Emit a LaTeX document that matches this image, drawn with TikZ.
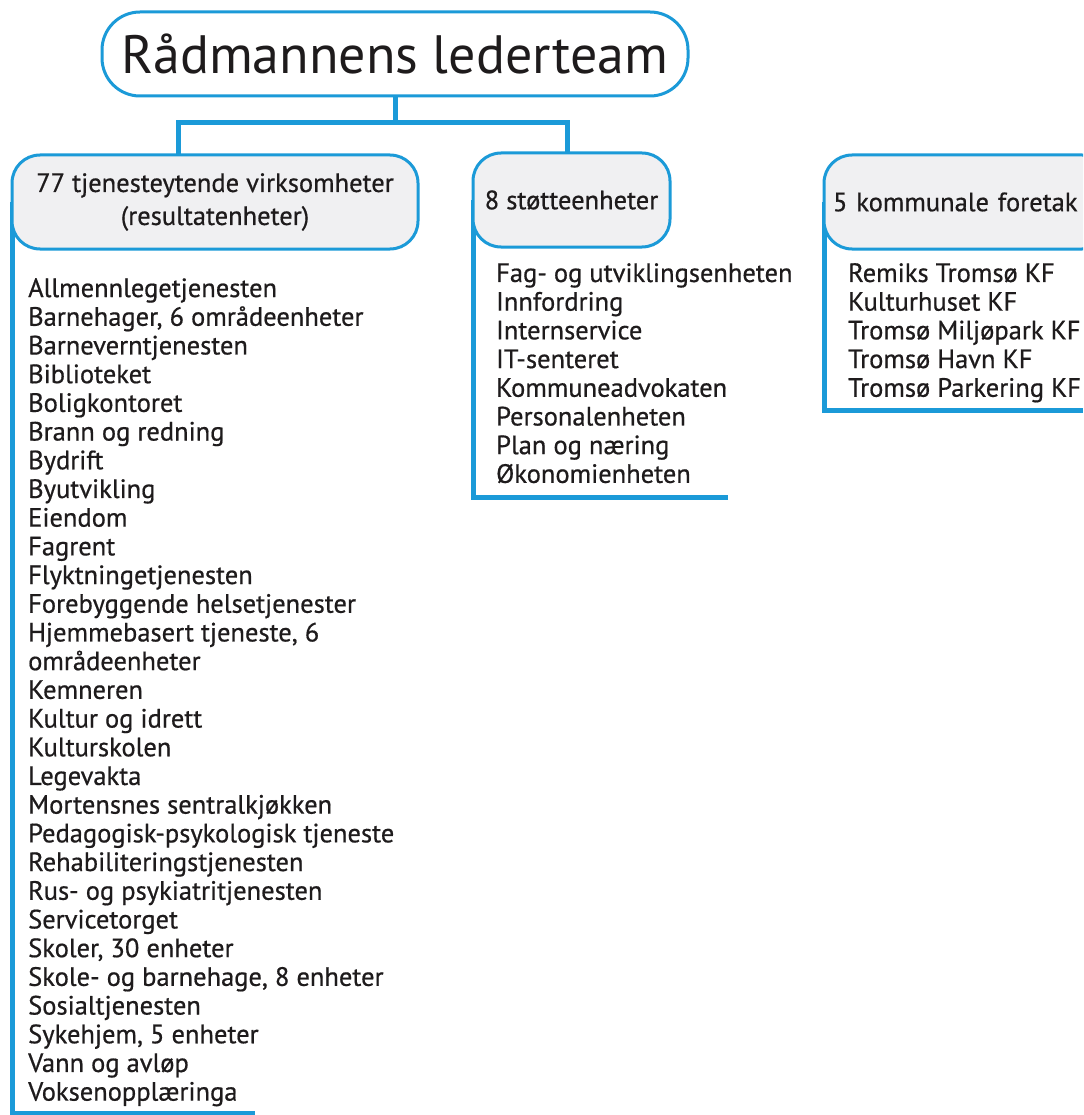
\documentclass[tikz,border=0pt]{standalone}
\usepackage{fontspec}
\setmainfont{PT Sans}
\newfontfamily\listfont{PT Sans}[FakeBold=0.6]
\usetikzlibrary{backgrounds}
\definecolor{tblue}{HTML}{1B9AD8}
\definecolor{tfill}{HTML}{F0F0F2}
\definecolor{ttext}{HTML}{1E1B1C}
\begin{document}
\begin{tikzpicture}[x=1pt,y=-1pt,
  box/.style={draw=tblue, line width=3pt, fill=tfill, rounded corners=28pt, inner sep=0pt, outer sep=0pt, text=ttext, minimum height=94pt},
  rail/.style={draw=tblue, line width=5pt},
  hdr/.style={font=\listfont\fontsize{26.5}{33}\selectfont},
  listtxt/.style={anchor=north west, inner sep=0pt, align=left, text=ttext, font=\listfont\fontsize{26.5}{28.7}\selectfont}]
\useasboundingbox (0,0) rectangle (1083,1115);
\clip (0,0) rectangle (1083,1115);
% top
\node[box, fill=white, rounded corners=38pt, minimum width=586pt, minimum height=84pt,
      font=\fontsize{54}{60}\selectfont] (top) at (395,54) {Rådmannens lederteam};
% groups
\node[box, hdr, align=center, minimum width=406pt] (b1) at (215,202)
  {77 tjenesteytende virksomheter\\(resultatenheter)};
\node[box, hdr, minimum width=197pt] (b2) at (571.5,200) {8 støtteenheter};
\node[box, hdr, anchor=west, text width=268pt, align=left, inner xsep=9pt] (b3) at (824,202) {5 kommunale foretak};
% connectors
\coordinate (j) at (395,123);
\draw[rail] (top.south) -- (j);
\draw[rail] (j) -| ([xshift=-37pt]b1.north);
\draw[rail] (j) -| ([xshift=-4.5pt]b2.north);
% rails
\coordinate (e1) at (255,1113);
\coordinate (e2) at (728,497);
\coordinate (e3) at (1083,410);
\begin{scope}[on background layer]
\fill[white] (0,0) rectangle (1083,1115);
\draw[rail] (b1.west) |- (e1);
\draw[rail] (b2.west) |- (e2);
\draw[rail] (b3.west) |- (e3);
\end{scope}
% lists
\node[listtxt] (l1) at (28,278) {Allmennlegetjenesten\\
Barnehager, 6 områdeenheter\\
Barneverntjenesten\\
Biblioteket\\
Boligkontoret\\
Brann og redning\\
Bydrift\\
Byutvikling\\
Eiendom\\
Fagrent\\
Flyktningetjenesten\\
Forebyggende helsetjenester\\
Hjemmebasert tjeneste, 6\\
områdeenheter\\
Kemneren\\
Kultur og idrett\\
Kulturskolen\\
Legevakta\\
Mortensnes sentralkjøkken\\
Pedagogisk-psykologisk tjeneste\\
Rehabiliteringstjenesten\\
Rus- og psykiatritjenesten\\
Servicetorget\\
Skoler, 30 enheter\\
Skole- og barnehage, 8 enheter\\
Sosialtjenesten\\
Sykehjem, 5 enheter\\
Vann og avløp\\
Voksenopplæringa};
\node[listtxt] (l2) at (496,263) {Fag- og utviklingsenheten\\
Innfordring\\
Internservice\\
IT-senteret\\
Kommuneadvokaten\\
Personalenheten\\
Plan og næring\\
Økonomienheten};
\node[listtxt] (l3) at (848,263) {Remiks Tromsø KF\\
Kulturhuset KF\\
Tromsø Miljøpark KF\\
Tromsø Havn KF\\
Tromsø Parkering KF};
\end{tikzpicture}
\end{document}
